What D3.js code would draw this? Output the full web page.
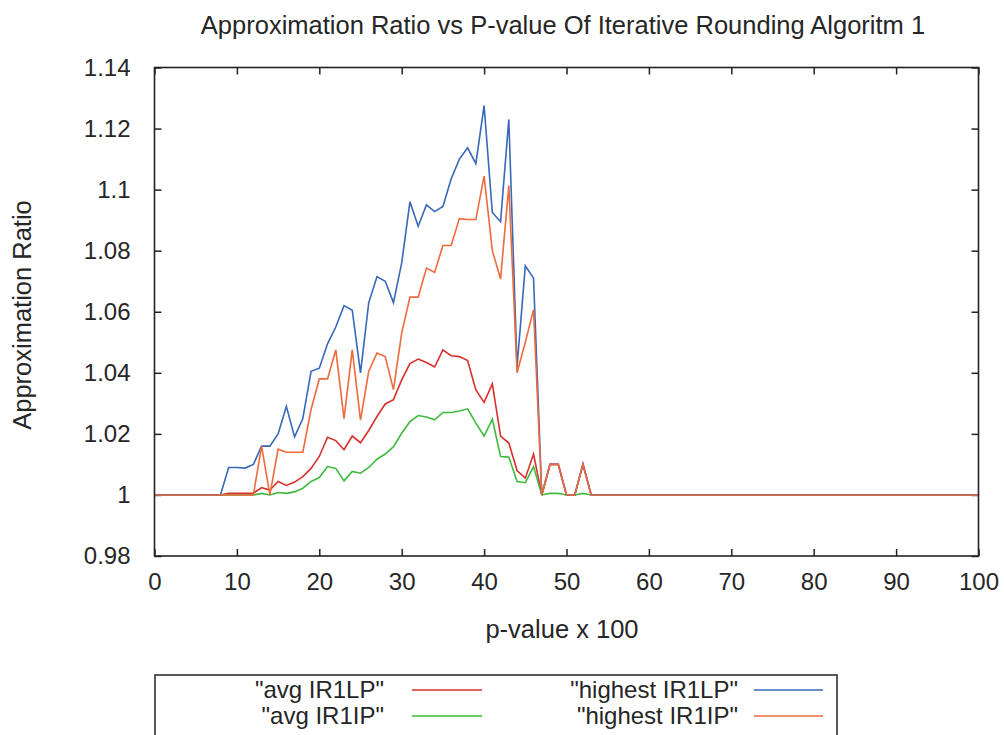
<!DOCTYPE html>
<html>
<head>
<meta charset="utf-8">
<script src="https://cdn.jsdelivr.net/npm/d3@7"></script>
<style>
  html, body { margin: 0; padding: 0; background: #fff; }
  svg { display: block; font-family: "Liberation Sans", Arial, sans-serif; }
</style>
</head>
<body>
<svg id="chart" width="1004" height="735"></svg>
<script>
// p-value x 100, one sample per integer step
const pValues = d3.range(0, 101);

// Average approximation ratio, IR1 with LP
const avgIR1LP = [
  1, 1, 1, 1, 1, 1, 1, 1, 1, 1.0005,
  1.0005, 1.0005, 1.0006, 1.0024, 1.0016, 1.0044, 1.0031, 1.0042, 1.006, 1.0087,
  1.0126, 1.0189, 1.0178, 1.0148, 1.0193, 1.0171, 1.0211, 1.0257, 1.0298, 1.0312,
  1.0377, 1.043, 1.0445, 1.0434, 1.0419, 1.0475, 1.0456, 1.0453, 1.044, 1.0344,
  1.0303, 1.0364, 1.0193, 1.017, 1.008, 1.0055, 1.0134, 1, 1.01, 1.01,
  1, 1, 1.01, 1, 1, 1, 1, 1, 1, 1,
  1, 1, 1, 1, 1, 1, 1, 1, 1, 1,
  1, 1, 1, 1, 1, 1, 1, 1, 1, 1,
  1, 1, 1, 1, 1, 1, 1, 1, 1, 1,
  1, 1, 1, 1, 1, 1, 1, 1, 1, 1,
  1
];

// Average approximation ratio, IR1 with IP
const avgIR1IP = [
  1, 1, 1, 1, 1, 1, 1, 1, 1, 1,
  1, 1, 1, 1.0005, 1, 1.0008, 1.0005, 1.001, 1.0022, 1.0044,
  1.0057, 1.0093, 1.0087, 1.0046, 1.0077, 1.0071, 1.009, 1.0117, 1.0134, 1.0158,
  1.0202, 1.024, 1.026, 1.0255, 1.0246, 1.027, 1.027, 1.0275, 1.0282, 1.0235,
  1.0193, 1.0248, 1.0126, 1.0124, 1.0044, 1.004, 1.0093, 1, 1.0005, 1.0005,
  1, 1, 1.0005, 1, 1, 1, 1, 1, 1, 1,
  1, 1, 1, 1, 1, 1, 1, 1, 1, 1,
  1, 1, 1, 1, 1, 1, 1, 1, 1, 1,
  1, 1, 1, 1, 1, 1, 1, 1, 1, 1,
  1, 1, 1, 1, 1, 1, 1, 1, 1, 1,
  1
];

// Highest approximation ratio, IR1 with LP
const highestIR1LP = [
  1, 1, 1, 1, 1, 1, 1, 1, 1, 1.009,
  1.009, 1.0088, 1.010, 1.016, 1.016, 1.020, 1.029, 1.019, 1.025, 1.0405,
  1.0415, 1.0495, 1.055, 1.062, 1.0605, 1.040, 1.063, 1.0715, 1.070, 1.063,
  1.076, 1.096, 1.088, 1.095, 1.0928, 1.0945, 1.1035, 1.110, 1.1137, 1.1085,
  1.1275, 1.0925, 1.0895, 1.123, 1.042, 1.075, 1.071, 1, 1.01, 1.01,
  1, 1, 1.01, 1, 1, 1, 1, 1, 1, 1,
  1, 1, 1, 1, 1, 1, 1, 1, 1, 1,
  1, 1, 1, 1, 1, 1, 1, 1, 1, 1,
  1, 1, 1, 1, 1, 1, 1, 1, 1, 1,
  1, 1, 1, 1, 1, 1, 1, 1, 1, 1,
  1
];

// Highest approximation ratio, IR1 with IP
const highestIR1IP = [
  1, 1, 1, 1, 1, 1, 1, 1, 1, 1,
  1, 1, 1, 1.016, 1, 1.015, 1.014, 1.014, 1.014, 1.028,
  1.038, 1.038, 1.0475, 1.025, 1.0475, 1.0245, 1.0405, 1.0465, 1.0453, 1.0345,
  1.053, 1.0648, 1.0648, 1.0743, 1.0729, 1.0817, 1.0817, 1.0905, 1.0902, 1.0902,
  1.1044, 1.080, 1.0707, 1.1013, 1.040, 1.050, 1.0607, 1, 1.01, 1.01,
  1, 1, 1.01, 1, 1, 1, 1, 1, 1, 1,
  1, 1, 1, 1, 1, 1, 1, 1, 1, 1,
  1, 1, 1, 1, 1, 1, 1, 1, 1, 1,
  1, 1, 1, 1, 1, 1, 1, 1, 1, 1,
  1, 1, 1, 1, 1, 1, 1, 1, 1, 1,
  1
];

const xTicks = [0, 10, 20, 30, 40, 50, 60, 70, 80, 90, 100];
const yTicks = [0.98, 1, 1.02, 1.04, 1.06, 1.08, 1.1, 1.12, 1.14];

const seriesNames = ['"avg IR1LP"', '"avg IR1IP"', '"highest IR1LP"', '"highest IR1IP"'];
const seriesValues = [avgIR1LP, avgIR1IP, highestIR1LP, highestIR1IP];
const seriesColors = ["#d8302c", "#3fbb3f", "#3868b8", "#ee6a3c"];

const titleText = "Approximation Ratio vs P-value Of Iterative Rounding Algoritm 1";
const xLabel = "p-value x 100";
const yLabel = "Approximation Ratio";

const svg = d3.select("#chart");
const plot = { left: 154.5, right: 978.5, top: 67.5, bottom: 556 };

const x = d3.scaleLinear().domain([0, 100]).range([plot.left, plot.right]);
const y = d3.scaleLinear().domain([0.98, 1.14]).range([plot.bottom, plot.top]);

const tickLen = 7;
const tickFont = "24px";
const labelFont = "25.5px";
const textColor = "#262626";

// Bottom axis with inward ticks
const xAxis = svg.append("g")
  .attr("transform", `translate(0,${plot.bottom})`)
  .call(d3.axisBottom(x).tickValues(xTicks).tickSize(-tickLen).tickPadding(17).tickFormat(d3.format("d")));
// Top mirror ticks
const xAxisTop = svg.append("g")
  .attr("transform", `translate(0,${plot.top})`)
  .call(d3.axisTop(x).tickValues(xTicks).tickSize(-tickLen).tickFormat(""));
// Left axis
const yAxis = svg.append("g")
  .attr("transform", `translate(${plot.left},0)`)
  .call(d3.axisLeft(y).tickValues(yTicks).tickSize(-tickLen).tickPadding(24).tickFormat(d3.format("")));
// Right mirror ticks
const yAxisRight = svg.append("g")
  .attr("transform", `translate(${plot.right},0)`)
  .call(d3.axisRight(y).tickValues(yTicks).tickSize(-tickLen).tickFormat(""));

[xAxis, xAxisTop, yAxis, yAxisRight].forEach(g => {
  g.select(".domain").remove();
  g.selectAll(".tick line").attr("stroke", "#222").attr("stroke-width", 1.5);
  g.selectAll(".tick text")
    .attr("fill", textColor)
    .style("font-size", tickFont)
    .style("font-family", '"Liberation Sans", Arial, sans-serif');
});

// Series lines, drawn in plotting order
const line = d3.line()
  .x((d, i) => x(pValues[i]))
  .y(d => y(d));

svg.append("clipPath").attr("id", "plotClip")
  .append("rect")
  .attr("x", plot.left).attr("y", plot.top)
  .attr("width", plot.right - plot.left).attr("height", plot.bottom - plot.top);

svg.append("g")
  .attr("clip-path", "url(#plotClip)")
  .selectAll("path")
  .data(seriesValues)
  .join("path")
  .attr("d", d => line(d))
  .attr("fill", "none")
  .attr("stroke", (d, i) => seriesColors[i])
  .attr("stroke-width", 1.6)
  .attr("stroke-linejoin", "miter");

// Plot frame
svg.append("rect")
  .attr("x", plot.left).attr("y", plot.top)
  .attr("width", plot.right - plot.left).attr("height", plot.bottom - plot.top)
  .attr("fill", "none").attr("stroke", "#222").attr("stroke-width", 1.6);

// Title and axis labels
svg.append("text")
  .attr("x", 563).attr("y", 34)
  .attr("text-anchor", "middle")
  .attr("fill", textColor)
  .style("font-size", labelFont)
  .text(titleText);

svg.append("text")
  .attr("x", 562).attr("y", 638)
  .attr("text-anchor", "middle")
  .attr("fill", textColor)
  .style("font-size", labelFont)
  .text(xLabel);

svg.append("text")
  .attr("transform", `translate(31,315) rotate(-90)`)
  .attr("text-anchor", "middle")
  .attr("fill", textColor)
  .style("font-size", labelFont)
  .text(yLabel);

// Legend, two columns
const legend = svg.append("g");
legend.append("rect")
  .attr("x", 155).attr("y", 675)
  .attr("width", 682).attr("height", 80)
  .attr("fill", "none").attr("stroke", "#222").attr("stroke-width", 1.5);

const legendPos = [
  { textX: 384, lineX1: 412, lineX2: 482, y: 690 },
  { textX: 384, lineX1: 412, lineX2: 482, y: 716 },
  { textX: 738, lineX1: 754, lineX2: 823, y: 690 },
  { textX: 738, lineX1: 754, lineX2: 823, y: 716 }
];

seriesNames.forEach((name, i) => {
  const p = legendPos[i];
  legend.append("text")
    .attr("x", p.textX).attr("y", p.y)
    .attr("dy", "0.35em")
    .attr("text-anchor", "end")
    .attr("fill", textColor)
    .style("font-size", "24px")
    .text(name);
  legend.append("line")
    .attr("x1", p.lineX1).attr("x2", p.lineX2)
    .attr("y1", p.y).attr("y2", p.y)
    .attr("stroke", seriesColors[i]).attr("stroke-width", 1.6);
});
</script>
</body>
</html>
